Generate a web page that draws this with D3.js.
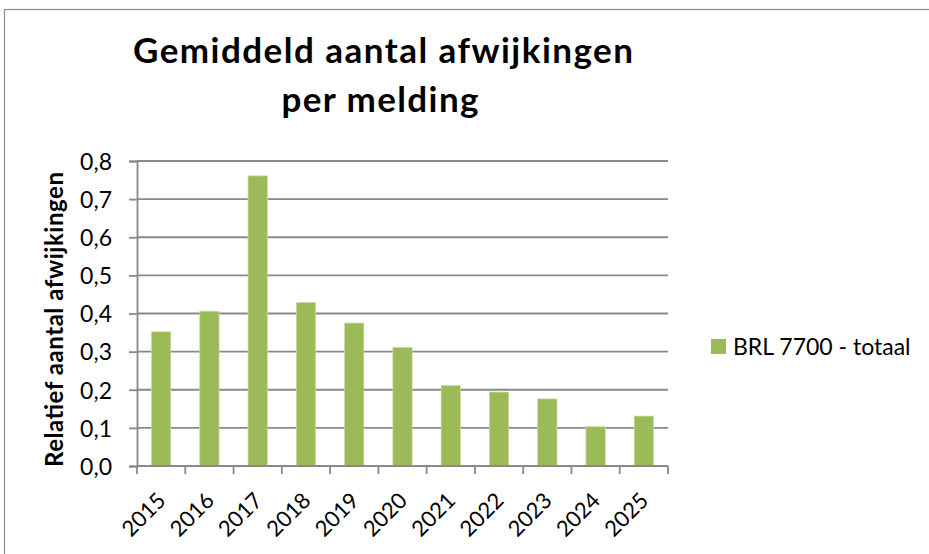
<!DOCTYPE html>
<html><head><meta charset="utf-8">
<script src="https://cdn.jsdelivr.net/npm/d3@7"></script>
<style>
html,body{margin:0;padding:0;background:#fff;}
svg text{font-family:Lato,"Open Sans",sans-serif;fill:#000;}
</style></head>
<body>
<svg id="c" width="929" height="554"></svg>
<script>
const categories = ["2015","2016","2017","2018","2019","2020","2021","2022","2023","2024","2025"];
const values = [0.352,0.406,0.761,0.429,0.375,0.311,0.211,0.194,0.176,0.103,0.131];
const yTicks = [0,0.1,0.2,0.3,0.4,0.5,0.6,0.7,0.8];
const seriesName = "BRL 7700 - totaal";
const titleLines = ["Gemiddeld aantal afwijkingen","per melding"];
const yTitle = "Relatief aantal afwijkingen";

const svg = d3.select("#c");
const color = "#9BBB59";
const gridColor = "#898989";

function fit(sel, target){
  sel.each(function(){
    const w = this.getComputedTextLength();
    if (w < target) d3.select(this).attr("textLength", target).attr("lengthAdjust","spacing");
  });
}

// outer frame
svg.append("rect").attr("x",4.5).attr("y",9.5).attr("width",940).attr("height",560)
  .attr("fill","none").attr("stroke","#8c8c8c").attr("stroke-width",1.2);

const pL=137, pR=668, pT=161, pB=466;
const x = d3.scaleBand().domain(categories).range([pL,pR]).paddingInner(0.6).paddingOuter(0.3);
const xb = d3.scaleBand().domain(categories).range([pL,pR]);
const y = d3.scaleLinear().domain([0,0.8]).range([pB,pT]);

// gridlines
svg.append("g").selectAll("line").data(yTicks.filter(d=>d>0)).join("line")
  .attr("x1",pL).attr("x2",pR).attr("y1",d=>y(d)).attr("y2",d=>y(d))
  .attr("stroke",gridColor).attr("stroke-width",1.8);

// bars
svg.append("g").selectAll("rect").data(values).join("rect")
  .attr("x",(d,i)=>x(categories[i])).attr("width",x.bandwidth())
  .attr("y",d=>y(d)).attr("height",d=>pB-y(d))
  .attr("fill",color).attr("stroke","#c9dca4").attr("stroke-width",0.7);

// y axis
const yAxis = d3.axisLeft(y).tickValues(yTicks).tickSize(8).tickPadding(17)
  .tickFormat(d=>d3.format(".1f")(d).replace(".",","));
const gy = svg.append("g").attr("transform",`translate(${pL},0)`).call(yAxis);
gy.select(".domain").attr("stroke",gridColor).attr("stroke-width",1.8);
gy.selectAll(".tick line").attr("stroke",gridColor).attr("stroke-width",1.8);
gy.selectAll(".tick text").style("font-size","23px").attr("dy","0.36em");

// x axis
const gx = svg.append("g").attr("transform",`translate(0,${pB})`);
gx.append("line").attr("x1",pL).attr("x2",pR).attr("stroke",gridColor).attr("stroke-width",1.8);
const bounds = categories.map(c=>xb(c)).concat([pR]);
gx.selectAll("line.tk").data(bounds).join("line").attr("class","tk")
  .attr("x1",d=>d).attr("x2",d=>d).attr("y1",0).attr("y2",8)
  .attr("stroke",gridColor).attr("stroke-width",1.8);
gx.selectAll("text").data(categories).join("text")
  .attr("transform",d=>`translate(${xb(d)+xb.bandwidth()/2+6},${36}) rotate(-45)`)
  .attr("text-anchor","end")
  .style("font-size","22px").text(d=>d);

// title
const tt = svg.append("g").selectAll("text").data(titleLines).join("text")
  .attr("x",(d,i)=>i===0?383:380).attr("y",(d,i)=>i===0?63:112).attr("text-anchor","middle")
  .style("font-size","35px").style("font-weight","bold").text(d=>d);
tt.each(function(d,i){ fit(d3.select(this), i===0?500:197); });

// y title
const yt = svg.append("text").attr("transform",`translate(63,${319.5}) rotate(-90)`)
  .attr("text-anchor","middle").style("font-size","24px").style("font-weight","bold").text(yTitle);
fit(yt, 295);

// legend
const lg = svg.append("g").attr("transform","translate(711,339)");
lg.append("rect").attr("width",15).attr("height",15).attr("fill",color);
lg.append("text").attr("x",22).attr("y",16).style("font-size","23px").text(seriesName);
</script>
</body></html>
